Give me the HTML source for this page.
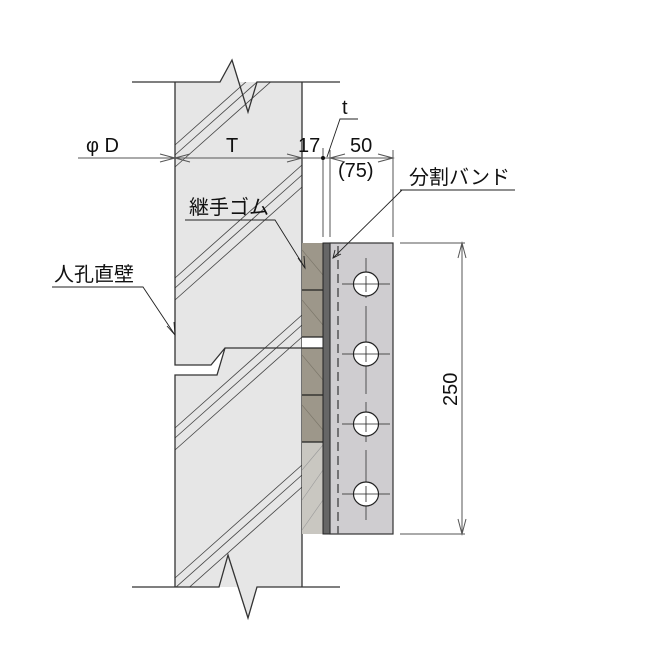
<!DOCTYPE html>
<html><head><meta charset="utf-8"><style>body{margin:0;background:#fff}svg{display:block}text{font-family:"Liberation Sans","Noto Sans CJK JP",sans-serif;fill:#111}</style></head>
<body>
<svg width="672" height="667" viewBox="0 0 672 667" xmlns="http://www.w3.org/2000/svg">
<defs><clipPath id="w"><rect x="175" y="82" width="127" height="505"/></clipPath>
<clipPath id="r"><rect x="302" y="243" width="21" height="291"/></clipPath></defs>
<rect x="175" y="82" width="127" height="505" fill="#e6e6e6"/>
<polygon points="220,82 232,60 248,112 257,82" fill="#e6e6e6"/>
<polygon points="219,587 228,555 248,618 257,587" fill="#e6e6e6"/>
<g clip-path="url(#w)" stroke="#444" stroke-width="0.8">
<line x1="175" y1="145" x2="302" y2="32"/><line x1="175" y1="155" x2="302" y2="42"/><line x1="175" y1="167" x2="302" y2="54"/>
<line x1="175" y1="278" x2="302" y2="165"/><line x1="175" y1="288" x2="302" y2="175"/><line x1="175" y1="300" x2="302" y2="187"/>
<line x1="175" y1="428" x2="302" y2="315"/><line x1="175" y1="438" x2="302" y2="325"/><line x1="175" y1="450" x2="302" y2="337"/>
<line x1="175" y1="578" x2="302" y2="465"/><line x1="175" y1="588" x2="302" y2="475"/><line x1="175" y1="600" x2="302" y2="487"/>
</g>
<polygon points="170,365 211,365 225,348 217,375 170,375" fill="#fff"/>
<g stroke="#333" stroke-width="1.3" fill="none">
<polyline points="175,82 175,365 211,365 225,348 302,348"/>
<polyline points="175,587 175,375 217,375 225,348"/>
<line x1="302" y1="82" x2="302" y2="587"/>
<polyline points="132,82 220,82 232,60 248,112 257,82 340,82"/>
<polyline points="132,587 219,587 228,555 248,618 257,587 340,587"/>
</g>
<rect x="302" y="243" width="21" height="199" fill="#9d978a"/>
<rect x="302" y="442" width="21" height="92" fill="#c9c7c1"/>
<rect x="302" y="337" width="21" height="11" fill="#fff"/>
<g clip-path="url(#r)" stroke="#7a7568" stroke-width="0.6">
<line x1="302" y1="250" x2="323" y2="275"/><line x1="302" y1="300" x2="323" y2="325"/><line x1="302" y1="355" x2="323" y2="380"/><line x1="302" y1="405" x2="323" y2="430"/>
<line x1="302" y1="470" x2="323" y2="445" stroke="#999"/><line x1="302" y1="500" x2="323" y2="470" stroke="#999"/><line x1="302" y1="530" x2="323" y2="500" stroke="#999"/>
</g>
<g stroke="#222" stroke-width="1.2">
<line x1="302" y1="290" x2="323" y2="290"/><line x1="302" y1="337" x2="323" y2="337"/><line x1="302" y1="348" x2="323" y2="348"/><line x1="302" y1="395" x2="323" y2="395"/><line x1="302" y1="442" x2="323" y2="442"/>
</g>
<rect x="323" y="243" width="7" height="291" fill="#666" stroke="#222" stroke-width="1"/>
<rect x="330" y="243" width="63" height="291" fill="#cfcdd0" stroke="#333" stroke-width="1.2"/>
<line x1="338" y1="246" x2="338" y2="534" stroke="#555" stroke-width="1.5" stroke-dasharray="9,5"/>
<line x1="366" y1="258" x2="366" y2="520" stroke="#333" stroke-width="0.8" stroke-dasharray="40,8"/>
<g fill="#fff" stroke="#222" stroke-width="1.2">
<ellipse cx="366" cy="284" rx="12.5" ry="12"/><ellipse cx="366" cy="354" rx="12.5" ry="12"/><ellipse cx="366" cy="424" rx="12.5" ry="12"/><ellipse cx="366" cy="494" rx="12.5" ry="12"/>
</g>
<g stroke="#222" stroke-width="0.8">
<line x1="342" y1="284" x2="390" y2="284"/><line x1="342" y1="354" x2="390" y2="354"/><line x1="342" y1="424" x2="390" y2="424"/><line x1="342" y1="494" x2="390" y2="494"/>
<line x1="366" y1="276" x2="366" y2="292"/><line x1="366" y1="346" x2="366" y2="362"/><line x1="366" y1="416" x2="366" y2="432"/><line x1="366" y1="486" x2="366" y2="502"/>
</g>
<g stroke="#555" stroke-width="1" fill="none">
<line x1="78" y1="158" x2="393" y2="158"/>
<line x1="323" y1="148" x2="323" y2="237"/><line x1="330" y1="150" x2="330" y2="237"/><line x1="393" y1="150" x2="393" y2="237"/>
<polyline points="160,154 175,158 160,162"/><polyline points="190,154 175,158 190,162"/>
<polyline points="287,154 302,158 287,162"/>
<polyline points="345,154 330,158 345,162"/><polyline points="378,154 393,158 378,162"/>
<line x1="400" y1="243" x2="465" y2="243"/><line x1="400" y1="534" x2="465" y2="534"/>
<line x1="462" y1="243" x2="462" y2="534"/>
<polyline points="458,258 462,243 466,258"/><polyline points="458,519 462,534 466,519"/>
</g>
<circle cx="323" cy="158" r="2" fill="#111"/>
<g stroke="#222" stroke-width="0.9" fill="none">
<polyline points="358,119 340,119 327,157"/>
<polyline points="400,190 515,190"/><line x1="402" y1="190" x2="333" y2="258"/>
<polyline points="335,250 333,258 341,254"/>
<polyline points="185,220 275,220 305,268"/>
<polyline points="298,258 305,268 304,256"/>
<polyline points="52,287 143,287 175,335"/>
<polyline points="167,326 175,335 174,322"/>
</g>
<text x="86" y="152" font-size="20">φ D</text>
<text x="226" y="152" font-size="20">T</text>
<text x="298" y="152" font-size="20">17</text>
<text x="342" y="114" font-size="20">t</text>
<text x="350" y="152" font-size="20">50</text>
<text x="338" y="177" font-size="20">(75)</text>
<text x="409" y="184" font-size="20">分割バンド</text>
<text x="189" y="214" font-size="20">継手ゴム</text>
<text x="54" y="281" font-size="20">人孔直壁</text>
<text x="0" y="0" font-size="20" transform="translate(457,406) rotate(-90)">250</text>
</svg>
</body></html>
